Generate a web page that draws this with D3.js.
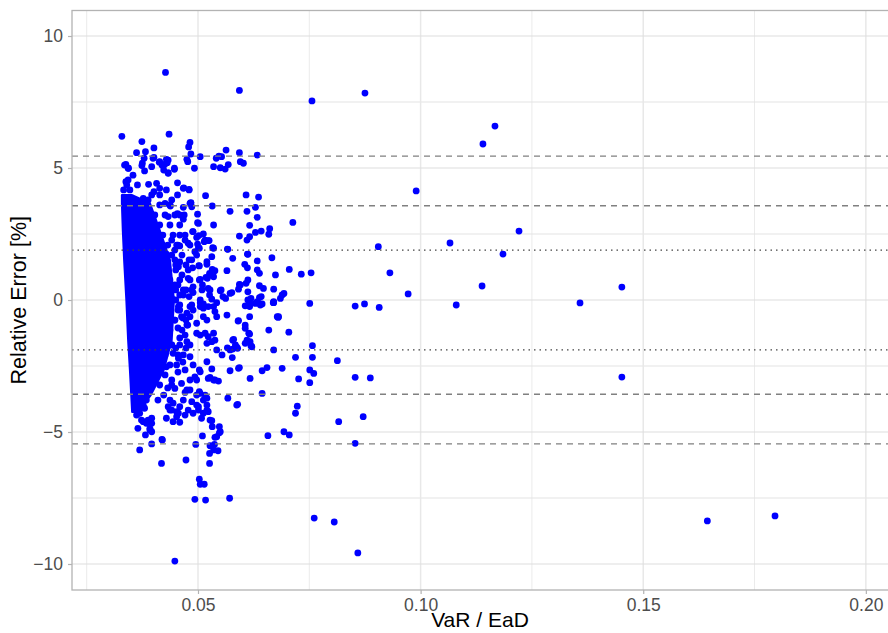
<!DOCTYPE html>
<html>
<head>
<meta charset="utf-8">
<script src="https://cdn.jsdelivr.net/npm/d3@7"></script>
<style>
  body { margin: 0; background: #fff; }
  svg text { font-family: "Liberation Sans", Arial, Helvetica, sans-serif; }
</style>
</head>
<body>
<div id="chart"></div>
<script>
// tick positions
var xTicks = [0.05, 0.10, 0.15, 0.20];
var xMinor = [0.025, 0.075, 0.125, 0.175];
var yTicks = [-10, -5, 0, 5, 10];
var yMinor = [-7.5, -2.5, 2.5, 7.5];

// horizontal reference levels
var dashedLevels = [5.45, 3.57, -3.57, -5.45];
var dottedLevels = [1.89, -1.89];

// saturated core of the cloud: y level, left and right edge in VaR/EaD
var coreY = [3.98, 3.67, 2.65, 1.52, 0, -1.52, -2.65, -3.60, -4.24];
var coreLo = [0.0329, 0.0329, 0.0331, 0.0334, 0.0339, 0.0343, 0.0347, 0.0350, 0.0352];
var coreHi = [0.0351, 0.0392, 0.0414, 0.0437, 0.0446, 0.0441, 0.0423, 0.0394, 0.0365];

// isolated points far from the cloud
var farPts = [
  [0.0427, 8.62], [0.0593, 7.94], [0.0756, 7.54], [0.0875, 7.84], [0.1167, 6.59], [0.1140, 5.91],
  [0.0990, 4.13], [0.1066, 2.16], [0.1221, 2.61], [0.1185, 1.74], [0.0905, 2.02], [0.0931, 1.03],
  [0.0972, 0.23], [0.1138, 0.53], [0.1080, -0.19], [0.1358, -0.11], [0.1452, 0.49], [0.1452, -2.92],
  [0.1644, -8.37], [0.1796, -8.18], [0.0761, -8.26], [0.0806, -8.41], [0.0859, -9.58], [0.0448, -9.89],
  [0.0329, 6.20], [0.0435, 6.28]
];

// points above the core
var upperPts = [
  [0.0374, 6.00], [0.0482, 5.97], [0.0479, 5.80], [0.0401, 5.76], [0.0362, 5.58], [0.0382, 5.62],
  [0.0563, 5.68], [0.0593, 5.58], [0.0633, 5.49], [0.0484, 5.53], [0.0505, 5.43], [0.0401, 5.40],
  [0.0547, 5.45], [0.0553, 5.43], [0.0541, 5.37], [0.0475, 5.33], [0.0477, 5.24], [0.0429, 5.33],
  [0.0431, 5.20], [0.0413, 5.22], [0.0335, 5.11], [0.0374, 5.09], [0.0396, 5.05], [0.0419, 5.11],
  [0.0447, 4.95], [0.0492, 4.99], [0.0535, 5.05], [0.0550, 5.01], [0.0561, 4.96], [0.0568, 5.13],
  [0.0595, 5.24], [0.0602, 5.18], [0.0343, 4.99], [0.0354, 4.73], [0.0380, 4.89], [0.0433, 4.80],
  [0.0454, 4.44], [0.0480, 4.19], [0.0468, 4.25], [0.0608, 3.98], [0.0636, 3.90], [0.0517, 3.95],
  [0.0484, 3.67], [0.0532, 3.56], [0.0379, 5.37], [0.0399, 5.37], [0.0414, 5.24], [0.0426, 5.15],
  [0.0433, 5.30], [0.0422, 5.08], [0.0344, 4.99], [0.0447, 4.99], [0.0375, 5.18], [0.0338, 5.14],
  [0.0423, 4.92], [0.0338, 4.48], [0.0333, 4.17], [0.0340, 4.36], [0.0364, 4.36], [0.0389, 4.38],
  [0.0407, 4.42], [0.0401, 4.10], [0.0396, 3.98], [0.0414, 4.23], [0.0429, 4.17], [0.0467, 4.23],
  [0.0480, 4.17], [0.0433, 4.82], [0.0454, 3.98], [0.0484, 3.69], [0.0467, 3.51], [0.0441, 3.79],
  [0.0438, 3.56], [0.0343, 4.55], [0.0347, 4.17], [0.0377, 3.85], [0.0388, 3.79], [0.0369, 3.66],
  [0.0414, 3.98], [0.0426, 3.66], [0.0482, 3.66], [0.0486, 3.53]
];

// points between the outer dashed lines, right of the core
var midPts = [
  [0.0572, 3.36], [0.0610, 3.36], [0.0629, 3.51], [0.0633, 3.13], [0.0713, 2.94], [0.0616, 2.83],
  [0.0499, 3.25], [0.0454, 3.27], [0.0469, 3.22], [0.0488, 2.59], [0.0502, 2.44], [0.0499, 2.93],
  [0.0535, 2.84], [0.0593, 2.42], [0.0610, 2.27], [0.0616, 2.40], [0.0629, 2.56], [0.0642, 2.61],
  [0.0661, 2.70], [0.0659, 2.49], [0.0514, 2.21], [0.0525, 2.25], [0.0535, 1.96], [0.0503, 1.96],
  [0.0493, 1.83], [0.0567, 1.92], [0.0578, 1.58], [0.0611, 1.74], [0.0633, 1.48], [0.0666, 1.60],
  [0.0705, 1.16], [0.0732, 0.98], [0.0502, 1.30], [0.0520, 1.35], [0.0532, 1.16], [0.0526, 1.01],
  [0.0518, 0.86], [0.0503, 0.76], [0.0488, 1.22], [0.0480, 1.52], [0.0565, 1.11], [0.0605, 1.35],
  [0.0611, 1.22], [0.0633, 1.14], [0.0638, 1.01], [0.0674, 0.95], [0.0612, 0.76], [0.0593, 0.59],
  [0.0608, 0.63], [0.0647, 0.44], [0.0670, 0.41], [0.0689, 0.19], [0.0693, 0.25], [0.0509, 0.38],
  [0.0527, 0.38], [0.0550, 0.35], [0.0572, 0.25], [0.0562, 0.06], [0.0612, 0.31], [0.0619, 0.06],
  [0.0638, 0.09], [0.0644, -0.15], [0.0633, -0.06], [0.0670, -0.06], [0.0685, 0.06],
  [0.0459, 2.46], [0.0471, 2.27], [0.0478, 2.15], [0.0452, 2.08], [0.0501, 1.98], [0.0533, 1.98],
  [0.0566, 1.93], [0.0612, 1.73], [0.0497, 1.70], [0.0486, 1.52], [0.0503, 1.29], [0.0520, 1.45],
  [0.0538, 1.11], [0.0531, 1.64], [0.0527, 0.95], [0.0521, 0.82], [0.0535, 0.88], [0.0505, 0.78],
  [0.0510, 0.57], [0.0489, 0.50], [0.0486, 0.38], [0.0467, 0.19], [0.0480, 0.13], [0.0489, 0.28],
  [0.0523, 0.44], [0.0526, 0.19], [0.0552, 0.38], [0.0556, 0.13], [0.0576, 0.28], [0.0591, 0.41],
  [0.0595, 0.57], [0.0612, 0.00], [0.0505, -0.10], [0.0512, -0.15], [0.0531, 0.03], [0.0542, -0.10],
  [0.0512, -0.31], [0.0638, 0.54], [0.0642, 0.13], [0.0617, -0.13], [0.0606, -0.22],
  [0.0501, 2.90], [0.0489, 2.59], [0.0512, 2.50], [0.0497, 2.37], [0.0516, 2.27], [0.0523, 2.25],
  [0.0499, 2.12], [0.0444, 2.46], [0.0459, 2.05], [0.0429, 1.74], [0.0418, 1.45], [0.0448, 1.52],
  [0.0456, 1.26], [0.0478, 1.14], [0.0478, 0.82], [0.0467, 0.38], [0.0448, 0.57], [0.0433, 0.25],
  [0.0441, 0.06], [0.0505, 0.00], [0.0486, -0.19], [0.0456, -0.25], [0.0482, -0.63], [0.0523, -0.25],
  [0.0538, -0.44], [0.0459, 3.22], [0.0433, 3.16], [0.0467, 3.06],
  [0.0450, 0.00], [0.0459, 0.19], [0.0455, 0.57], [0.0464, 0.95], [0.0450, 1.14], [0.0459, 1.44],
  [0.0448, 1.89], [0.0441, 2.27], [0.0455, -0.38], [0.0466, -0.68], [0.0455, -1.06], [0.0471, -1.33],
  [0.0459, -1.44], [0.0450, -1.82], [0.0466, -2.35], [0.0455, -2.73], [0.0441, -3.03], [0.0432, -3.33],
  [0.0423, -3.60], [0.0437, -2.46], [0.0473, -1.82], [0.0477, -0.95],
  [0.0414, 3.60], [0.0437, 3.60], [0.0403, 3.22], [0.0426, 3.22], [0.0448, 3.22], [0.0414, 2.84],
  [0.0437, 2.84], [0.0459, 2.84], [0.0421, 2.46], [0.0471, 2.46], [0.0432, 2.08], [0.0455, 2.08],
  [0.0482, 2.08], [0.0441, 1.70], [0.0464, 1.70], [0.0450, 1.33], [0.0473, 1.33], [0.0459, 0.76],
  [0.0482, 0.76], [0.0437, 0.76], [0.0450, 0.38], [0.0473, 0.38], [0.0459, -0.38], [0.0437, -0.38],
  [0.0448, -0.76], [0.0473, -0.76], [0.0437, -1.14], [0.0464, -1.14], [0.0441, -1.70], [0.0482, -1.70],
  [0.0426, -2.08], [0.0455, -2.08], [0.0426, -2.84], [0.0414, -3.22], [0.0441, -3.22], [0.0410, -3.79],
  [0.0459, -0.19], [0.0475, -0.50], [0.0489, -0.38], [0.0505, -0.25], [0.0535, -0.25], [0.0512, -0.63],
  [0.0520, -0.76], [0.0542, -0.63], [0.0565, -0.57], [0.0591, -0.78], [0.0606, -0.95], [0.0614, -1.26],
  [0.0629, -0.13], [0.0640, -0.19], [0.0670, -0.10], [0.0678, -0.63], [0.0659, -1.14], [0.0704, -1.22],
  [0.0497, -1.26], [0.0523, -1.39], [0.0531, -1.58], [0.0580, -1.49], [0.0584, -1.70], [0.0610, -1.52],
  [0.0619, -1.74], [0.0542, -1.89], [0.0554, -2.08], [0.0572, -1.89], [0.0577, -2.18], [0.0589, -1.83],
  [0.0670, -1.89], [0.0719, -2.17], [0.0726, -2.99], [0.0520, -2.34], [0.0503, -2.65], [0.0493, -2.91],
  [0.0523, -2.97], [0.0535, -3.03], [0.0546, -3.07], [0.0572, -2.68], [0.0591, -2.59], [0.0617, -2.97],
  [0.0644, -2.68], [0.0655, -2.56],
  [0.0754, 1.03], [0.0751, -0.13], [0.0853, -0.23], [0.0874, -0.15], [0.0907, -0.28], [0.0681, -0.63],
  [0.0757, -1.73], [0.0757, -2.17], [0.0813, -2.30], [0.0751, -2.65], [0.0760, -2.78], [0.0751, -3.13],
  [0.0853, -2.93], [0.0887, -2.95], [0.0644, -3.54],
  [0.0616, -0.63], [0.0590, -0.80], [0.0606, -1.07], [0.0616, -1.29], [0.0617, -1.58], [0.0606, -1.64],
  [0.0621, -1.77], [0.0587, -1.79], [0.0578, -1.86], [0.0593, -2.56], [0.0566, -1.81], [0.0578, -1.52],
  [0.0689, -2.59], [0.0680, -0.66], [0.0669, -0.10], [0.0633, -0.10], [0.0616, -0.25],
  [0.0531, -2.61], [0.0527, -2.93], [0.0538, -3.03],
  [0.0482, -0.25], [0.0463, -0.63], [0.0429, -0.44], [0.0448, -0.76], [0.0475, -0.95], [0.0497, -0.88],
  [0.0505, -1.33], [0.0516, -1.26], [0.0535, -1.26], [0.0520, -1.64], [0.0538, -1.52], [0.0475, -1.58],
  [0.0459, -1.70], [0.0441, -1.70], [0.0444, -2.02], [0.0467, -2.08], [0.0482, -2.15], [0.0456, -2.21],
  [0.0429, -2.53], [0.0452, -2.46], [0.0471, -2.65], [0.0489, -2.46], [0.0505, -2.72], [0.0497, -3.03],
  [0.0482, -3.03], [0.0463, -3.16], [0.0448, -3.35], [0.0475, -3.41], [0.0482, -3.41], [0.0471, -3.50],
  [0.0503, -3.47]
];

// points below the core
var lowerPts = [
  [0.0497, -3.60], [0.0505, -3.54], [0.0520, -3.72], [0.0512, -3.79], [0.0501, -4.04], [0.0486, -3.85],
  [0.0489, -4.29], [0.0512, -4.29], [0.0520, -4.17], [0.0478, -4.17], [0.0471, -4.36], [0.0508, -4.48],
  [0.0531, -4.57], [0.0532, -4.80], [0.0542, -5.18], [0.0548, -5.03], [0.0510, -5.15], [0.0495, -5.47],
  [0.0527, -5.52], [0.0537, -5.47], [0.0535, -5.68], [0.0526, -5.81], [0.0545, -5.71], [0.0526, -6.19],
  [0.0473, -6.06], [0.0419, -5.28], [0.0396, -5.45], [0.0429, -4.48], [0.0444, -4.61], [0.0459, -4.63],
  [0.0452, -4.42], [0.0433, -4.04], [0.0441, -4.17], [0.0365, -4.86], [0.0369, -5.68], [0.0384, -4.67],
  [0.0392, -4.86], [0.0396, -4.99], [0.0382, -5.11], [0.0388, -4.55], [0.0362, -4.36], [0.0373, -4.55],
  [0.0369, -4.10], [0.0377, -3.98], [0.0503, -6.79], [0.0505, -6.98], [0.0514, -6.98], [0.0493, -7.55],
  [0.0517, -7.58], [0.0571, -7.51], [0.0418, -6.19],
  [0.0567, -3.72], [0.0589, -3.95], [0.0587, -3.98], [0.0723, -4.02], [0.0719, -4.29], [0.0816, -4.61],
  [0.0871, -4.42], [0.0657, -5.14], [0.0693, -4.99], [0.0705, -5.11], [0.0853, -5.43],
  [0.0516, -3.60], [0.0520, -3.98], [0.0523, -4.23], [0.0497, -3.98], [0.0501, -4.17], [0.0527, -4.55],
  [0.0550, -4.99], [0.0538, -5.20], [0.0467, -3.79], [0.0459, -4.04], [0.0444, -3.91], [0.0437, -4.17],
  [0.0456, -4.29], [0.0392, -4.92], [0.0396, -4.67], [0.0420, -5.30], [0.0396, -4.48], [0.0384, -3.79],
  [0.0380, -4.10], [0.0369, -4.29], [0.0437, -3.79], [0.0452, -4.23], [0.0548, -4.80], [0.0365, -3.79],
  [0.0377, -4.61]
];

var width = 888, height = 633;
var panel = { left: 72, right: 889, top: 10.5, bottom: 590 };
var blue = '#0000ff';

var svg = d3.select('#chart')
  .append('svg')
  .attr('width', width)
  .attr('height', height);

var x = d3.scaleLinear()
  .domain([0.0217, 0.2052])
  .range([panel.left, panel.right]);

var y = d3.scaleLinear()
  .domain([-10.985, 10.966])
  .range([panel.bottom, panel.top]);

svg.append('defs').append('clipPath')
  .attr('id', 'clip')
  .append('rect')
  .attr('x', panel.left)
  .attr('y', panel.top)
  .attr('width', panel.right - panel.left)
  .attr('height', panel.bottom - panel.top);

var grid = svg.append('g');

// minor grid
grid.selectAll('.xminor').data(xMinor).enter().append('line')
  .attr('x1', function (d) { return x(d); })
  .attr('x2', function (d) { return x(d); })
  .attr('y1', panel.top).attr('y2', panel.bottom)
  .style('stroke', '#ebebeb').style('stroke-width', 1);
grid.selectAll('.yminor').data(yMinor).enter().append('line')
  .attr('y1', function (d) { return y(d); })
  .attr('y2', function (d) { return y(d); })
  .attr('x1', panel.left).attr('x2', panel.right)
  .style('stroke', '#e3e3e3').style('stroke-width', 1);

// major grid
grid.selectAll('.xmajor').data(xTicks).enter().append('line')
  .attr('x1', function (d) { return x(d); })
  .attr('x2', function (d) { return x(d); })
  .attr('y1', panel.top).attr('y2', panel.bottom)
  .style('stroke', '#e8e8e8').style('stroke-width', 1.5);
grid.selectAll('.ymajor').data(yTicks).enter().append('line')
  .attr('y1', function (d) { return y(d); })
  .attr('y2', function (d) { return y(d); })
  .attr('x1', panel.left).attr('x2', panel.right)
  .style('stroke', '#dedede').style('stroke-width', 1.2);

var plot = svg.append('g').attr('clip-path', 'url(#clip)');

// dense core of the point cloud
var core = coreY.map(function (v, i) { return { y: v, lo: coreLo[i], hi: coreHi[i] }; });
var coreArea = d3.area()
  .y(function (d) { return y(d.y); })
  .x0(function (d) { return x(d.lo); })
  .x1(function (d) { return x(d.hi); });
plot.append('path')
  .datum(core)
  .attr('d', coreArea)
  .style('fill', blue)
  .style('stroke', blue)
  .style('stroke-width', 2)
  .style('stroke-linejoin', 'round');

var allPts = farPts.concat(upperPts, midPts, lowerPts);
plot.selectAll('circle.pt').data(allPts).enter().append('circle')
  .attr('class', 'pt')
  .attr('cx', function (d) { return x(d[0]); })
  .attr('cy', function (d) { return y(d[1]); })
  .attr('r', 3.4)
  .style('fill', blue);

// reference lines
plot.selectAll('.dash').data(dashedLevels).enter().append('line')
  .attr('x1', panel.left).attr('x2', panel.right)
  .attr('y1', function (d) { return y(d); })
  .attr('y2', function (d) { return y(d); })
  .style('stroke', '#808080').style('stroke-width', 1.3)
  .style('stroke-dasharray', '6,5');
plot.selectAll('.dot').data(dottedLevels).enter().append('line')
  .attr('x1', panel.left).attr('x2', panel.right)
  .attr('y1', function (d) { return y(d); })
  .attr('y2', function (d) { return y(d); })
  .style('stroke', '#444').style('stroke-width', 1.3)
  .style('stroke-dasharray', '1.5,4');

// panel border
svg.append('rect')
  .attr('x', panel.left).attr('y', panel.top)
  .attr('width', panel.right - panel.left + 2)
  .attr('height', panel.bottom - panel.top)
  .style('fill', 'none').style('stroke', '#b3b3b3').style('stroke-width', 1.3);

// axes
var xAxis = d3.axisBottom(x).tickValues(xTicks).tickSize(4).tickPadding(5)
  .tickFormat(d3.format('.2f'));
var yAxis = d3.axisLeft(y).tickValues(yTicks).tickSize(4).tickPadding(5)
  .tickFormat(d3.format('d'));

var gx = svg.append('g').attr('transform', 'translate(0,' + panel.bottom + ')').call(xAxis);
var gy = svg.append('g').attr('transform', 'translate(' + panel.left + ',0)').call(yAxis);
[gx, gy].forEach(function (g) {
  g.select('.domain').remove();
  g.selectAll('.tick line').style('stroke', '#b3b3b3').style('stroke-width', 1.2);
  g.selectAll('.tick text')
    .style('fill', '#4d4d4d')
    .style('font-size', '17.5px')
    .style('font-family', '"Liberation Sans", Arial, sans-serif');
});

svg.append('text')
  .attr('x', (panel.left + 888) / 2)
  .attr('y', 627)
  .attr('text-anchor', 'middle')
  .style('font-size', '21px')
  .style('fill', '#000')
  .text('VaR / EaD');

svg.append('text')
  .attr('transform', 'translate(26,' + ((panel.top + panel.bottom) / 2) + ') rotate(-90)')
  .attr('text-anchor', 'middle')
  .style('font-size', '21.5px')
  .style('fill', '#000')
  .text('Relative Error [%]');
</script>
</body>
</html>
